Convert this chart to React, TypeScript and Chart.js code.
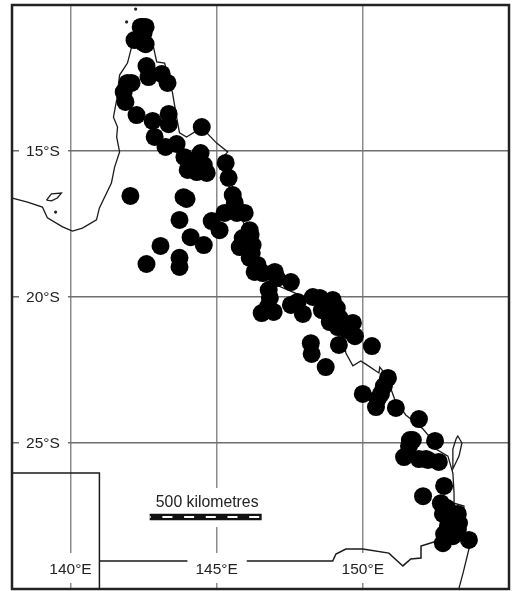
import React, { useEffect, useRef } from "react";
import { Chart, registerables } from "chart.js";

Chart.register(...registerables);

const xTicks = [140, 145, 150];
const yTicks = [-15, -20, -25];
const xLabels = ["140°E", "145°E", "150°E"];
const yLabels = ["15°S", "20°S", "25°S"];
const scaleLabel = "500 kilometres";

// Records: longitude °E, latitude °S
const recordLon = [
  142.47,142.50,142.19,142.50,142.60,142.67,143.12,143.32,141.95,141.82,141.88,142.26,142.81,143.36,143.36,144.49,142.88,143.25,143.63,143.90,144.45,144.01,144.42,144.66,144.32,144.56,
  145.31,145.41,145.55,142.05,143.87,143.73,144.11,144.56,143.08,142.60,143.73,143.73,144.83,145.10,145.27,145.62,145.69,145.96,
  146.13,145.89,146.23,145.79,146.20,146.13,146.40,146.30,146.58,146.99,147.06,147.54,146.78,146.82,146.54,146.95,146.75,147.54,147.77,147.95,148.29,148.53,148.97,148.60,148.80,149.11,148.87,149.14,149.66,149.73,149.45,
  148.22,148.25,148.73,149.18,150.31,150.86,150.72,150.62,150.00,150.45,150.51,151.13,151.92,151.61,152.47,151.41,151.92,152.16,152.60,151.58,
  152.78,152.06,152.67,152.74,153.25,153.19,152.78,153.25,152.74,153.63,153.08,153.29,152.91,
  142.40,142.57,142.57,142.09,143.97,153.05,152.98,152.88,151.71,152.23,146.16,149.21,149.38,
];
const recordLat = [
  10.75,10.96,11.20,11.30,12.09,12.47,12.36,12.67,12.67,12.98,13.32,13.77,13.97,13.73,14.08,14.18,14.52,14.86,14.76,15.21,15.07,15.65,15.41,15.75,15.72,15.48,
  15.41,15.92,16.51,16.54,16.58,17.36,17.95,18.22,18.25,18.87,18.66,18.97,17.40,17.71,17.12,16.78,17.12,17.12,
  17.71,17.98,18.22,18.29,18.49,18.66,18.90,19.14,19.18,19.14,19.35,19.49,19.76,20.03,20.55,20.51,20.34,20.27,20.17,20.58,20.00,20.03,20.10,20.45,20.55,20.38,20.86,21.03,20.89,21.34,21.13,
  21.58,21.95,22.40,21.64,21.68,22.77,23.05,23.32,23.32,23.77,23.49,23.80,24.18,24.90,24.93,25.48,25.55,25.55,25.65,25.10,
  26.47,26.82,27.06,27.43,27.43,27.84,28.12,27.95,28.43,28.32,28.19,27.74,27.84,
  10.75,10.75,11.34,12.67,16.64,27.57,27.98,27.23,24.90,25.58,17.88,20.72,21.06,
];

const westLon = [142.09,141.95,141.68,141.58,141.47,141.61,141.58,141.68,141.51,141.40,140.99,140.89,140.41,140.07,139.73,139.21,139.04,138.53,138.01];
const westLat = [11.44,11.99,12.40,13.25,13.84,14.18,14.52,15.03,15.55,16.10,16.95,17.36,17.64,17.74,17.60,17.29,16.92,16.75,16.61];

const eastLon = [142.09,142.84,142.95,143.22,143.49,143.63,143.73,143.97,144.25,144.66,145.0,145.38,145.21,145.31,145.62,145.96,146.23,146.64,147.67,148.53,149.38,149.42,149.66,149.93,150.10,150.55,150.58,150.79,151.10,151.47,152.06,152.26,152.50,152.91,153.08,153.12,153.12,153.46,153.39,153.63,153.43,153.29];
const eastLat = [11.44,11.44,11.95,11.99,13.01,13.84,14.38,14.52,14.35,14.38,14.73,15.03,15.21,15.82,16.85,17.53,18.39,19.42,19.86,20.27,21.64,21.92,22.36,22.19,22.30,22.60,22.40,22.67,23.53,24.04,24.52,24.76,25.21,25.45,26.03,26.71,27.06,27.16,27.81,28.63,29.45,29.97];

const fraserLon = [153.19,153.25,153.39,153.29,153.08,153.08,153.19];
const fraserLat = [24.86,24.76,25.0,25.45,25.89,25.21,24.86];

const gulfIslandLon = [139.18,139.35,139.69,139.55,139.35,139.18];
const gulfIslandLat = [16.68,16.47,16.44,16.61,16.71,16.68];

const southLon = [140.99,144.0,NaN,146.03,148.97,149.08,149.42,150.0,150.89,151.37,151.64,151.99,151.99,152.43,152.98];
const southLat = [29.04,29.04,NaN,29.04,29.04,28.80,28.63,28.63,28.77,29.21,28.97,28.94,28.53,28.39,28.25];

const boxLon = [138.01,140.99,140.99];
const boxLat = [26.03,26.03,30];

const isletLon = [139.49,142.23,141.92];
const isletLat = [17.09,10.14,10.58];

const barLon = [142.71,146.54];
const barLat = [27.53,27.53];

const toPts = (lon: number[], lat: number[]) =>
  lon.map((x, i) => ({ x, y: Number.isNaN(lat[i]) ? NaN : -lat[i] }));

const lineSet = (lon: number[], lat: number[], width = 1.3) => ({
  type: "scatter" as const,
  data: toPts(lon, lat),
  showLine: true,
  spanGaps: false,
  borderColor: "#1a1a1a",
  borderWidth: width,
  pointRadius: 0,
  tension: 0,
  order: 3,
});

const FONT = '15.5px "Liberation Sans", Arial, sans-serif';

const mapOverlay = {
  id: "mapOverlay",
  beforeDatasetsDraw(chart: any) {
    const { ctx, scales } = chart;
    const { x, y } = scales;
    ctx.save();
    ctx.fillStyle = "#fff";
    yTicks.forEach((v) => ctx.fillRect(19, y.getPixelForValue(v) - 14, 49, 28));
    xTicks.forEach((v) => {
      const cx = x.getPixelForValue(v);
      ctx.fillRect(cx - 29, 553, 58, 30);
    });
    ctx.fillRect(148, 488, 116, 39);
    ctx.restore();
  },
  afterDraw(chart: any) {
    const { ctx, scales, chartArea } = chart;
    const { x, y } = scales;
    ctx.save();
    ctx.fillStyle = "#222";
    ctx.font = FONT;
    ctx.textAlign = "center";
    ctx.textBaseline = "middle";
    yLabels.forEach((t, i) => ctx.fillText(t, 43, y.getPixelForValue(yTicks[i]) + 1));
    xLabels.forEach((t, i) => ctx.fillText(t, x.getPixelForValue(xTicks[i]), 570));
    ctx.font = '15.8px "Liberation Sans", Arial, sans-serif';
    ctx.fillText(scaleLabel, x.getPixelForValue((barLon[0] + barLon[1]) / 2) + 1.5, 503);
    ctx.strokeStyle = "#222";
    ctx.lineWidth = 2.5;
    ctx.strokeRect(chartArea.left, chartArea.top, chartArea.width, chartArea.height);
    ctx.restore();
  },
};

const flatten = (s: any) => {
  if (s.isHorizontal()) s.height = 0;
  else s.width = 0;
  s.paddingTop = s.paddingBottom = s.paddingLeft = s.paddingRight = 0;
};

export default function App() {
  const ref = useRef<HTMLCanvasElement | null>(null);
  useEffect(() => {
    if (!ref.current) return;
    const chart = new Chart(ref.current, {
      type: "scatter",
      data: {
        datasets: [
          lineSet(westLon, westLat),
          lineSet(eastLon, eastLat),
          lineSet(fraserLon, fraserLat),
          lineSet(gulfIslandLon, gulfIslandLat),
          lineSet(southLon, southLat, 1.5),
          lineSet(boxLon, boxLat, 1.5),
          {
            data: toPts(isletLon, isletLat),
            pointRadius: 1.6,
            pointBackgroundColor: "#222",
            pointBorderWidth: 0,
            order: 3,
          },
          {
            data: toPts(recordLon, recordLat),
            pointRadius: 9,
            pointBackgroundColor: "#000",
            pointBorderWidth: 0,
            order: 2,
          },
          {
            ...lineSet(barLon, barLat, 6.5),
            borderColor: "#111",
            order: 1,
          },
          {
            ...lineSet(barLon, barLat, 2),
            borderColor: "#fff",
            borderDash: [10, 11.7],
            borderDashOffset: 9,
            order: 0,
          },
        ] as any,
      },
      options: {
        responsive: false,
        animation: false,
        devicePixelRatio: 1,
        layout: { padding: { left: 12, right: 3, top: 5, bottom: 2 }, autoPadding: false },
        plugins: { legend: { display: false }, tooltip: { enabled: false } },
        scales: {
          x: {
            type: "linear",
            min: 138,
            max: 155,
            afterBuildTicks: (s: any) => {
              s.ticks = xTicks.map((value) => ({ value }));
            },
            afterFit: flatten,
            ticks: { display: false },
            border: { display: false },
            grid: { color: "#8c8c8c", lineWidth: 1.5, drawTicks: false, tickLength: 0 },
          },
          y: {
            type: "linear",
            min: -30,
            max: -10,
            afterBuildTicks: (s: any) => {
              s.ticks = yTicks.map((value) => ({ value }));
            },
            afterFit: flatten,
            ticks: { display: false },
            border: { display: false },
            grid: { color: "#6e6e6e", lineWidth: 1.5, drawTicks: false, tickLength: 0 },
          },
        },
      } as any,
      plugins: [mapOverlay],
    });
    return () => chart.destroy();
  }, []);
  return (
    <div style={{ position: "absolute", left: 0, top: 0, background: "#fff" }}>
      <canvas ref={ref} width={512} height={591} style={{ display: "block" }} />
    </div>
  );
}
